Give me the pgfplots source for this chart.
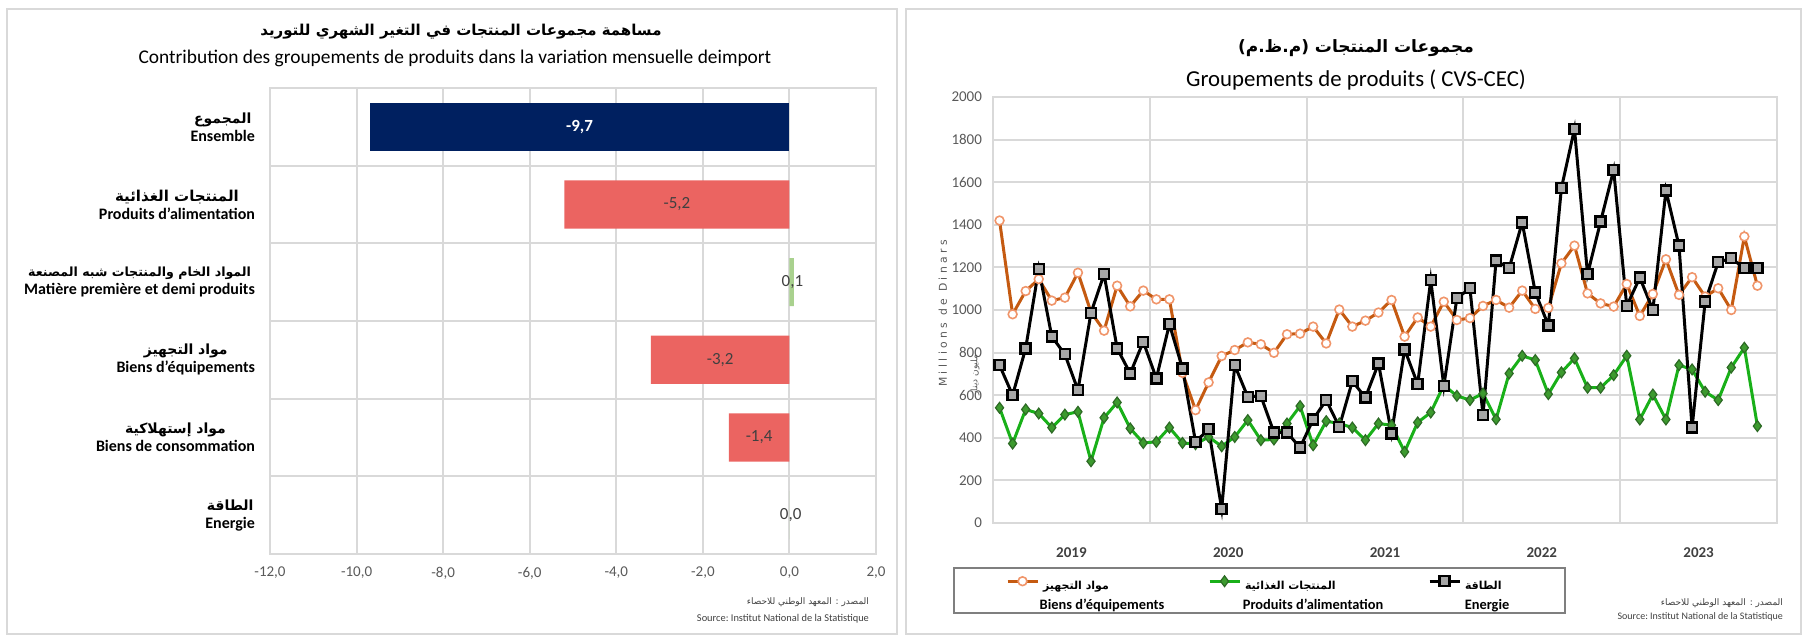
\documentclass[border=0pt]{standalone}
\usepackage{pgfplots}
\pgfplotsset{compat=1.18}
\usepackage{pgfplotstable}
\usepackage{fontspec}
\setmainfont{Carlito}
\newfontfamily\arabicfont[Script=Arabic]{DejaVu Sans}
\newfontfamily\dejavu{DejaVu Sans}
\TeXXeTstate=1
\definecolor{gridc}{HTML}{D9D9D9}
\definecolor{navy}{HTML}{002060}
\definecolor{redbar}{HTML}{EB6461}
\definecolor{greenbar}{HTML}{A9D18E}
\definecolor{txt}{HTML}{404040}
\definecolor{ticktxt}{HTML}{595959}
\definecolor{legc}{HTML}{7F7F7F}
\definecolor{orangeline}{HTML}{C55A11}
\definecolor{orangemark}{HTML}{F0956A}
\definecolor{greenline}{HTML}{19B019}
\definecolor{greenmark}{HTML}{3C9A2E}
\definecolor{greenedge}{HTML}{2D6A25}
\definecolor{graymark}{HTML}{A6A6A6}
\newcommand{\fsz}[2]{\fontsize{#1}{#2}\selectfont}
\newcommand{\cat}[3]{{\fsz{#1}{9.5}\arabicfont\bfseries #2}\\[-0.5pt]\textbf{#3}}
\newcommand{\legent}[3]{\begin{tabular}{@{}p{#1}@{}}{\fsz{5.5}{8}\arabicfont\bfseries #2}\\[1pt]\makebox[#1]{\makebox[0pt]{\textbf{#3}}}\end{tabular}}

\pgfplotstableread{
x eq al en
0.5 1420 541 741
1.5 980 373 600
2.5 1089 533 820
3.5 1145 514 1193
4.5 1044 448 875
5.5 1058 509 792
6.5 1175 522 624
7.5 990 290 987
8.5 903 494 1168
9.5 1114 566 820
10.5 1017 444 702
11.5 1091 376 851
12.5 1050 381 679
13.5 1050 448 933
14.5 705 376 726
15.5 530 370 381
16.5 660 404 440
17.5 784 360 67
18.5 812 404 741
19.5 848 483 592
20.5 839 389 596
21.5 799 392 425
22.5 886 467 425
23.5 889 549 354
24.5 922 365 486
25.5 843 478 577
26.5 1002 467 451
27.5 922 448 666
28.5 950 389 589
29.5 988 467 749
30.5 1047 459 420
31.5 875 334 815
32.5 965 472 652
33.5 922 519 1141
34.5 1039 647 643
35.5 953 597 1055
36.5 962 577 1102
37.5 1019 608 506
38.5 1047 487 1232
39.5 1011 702 1196
40.5 1091 785 1411
41.5 1005 765 1083
42.5 1010 605 928
43.5 1219 707 1572
44.5 1302 773 1850
45.5 1078 635 1168
46.5 1031 635 1415
47.5 1016 694 1658
48.5 1122 785 1019
49.5 972 486 1152
50.5 1075 603 1000
51.5 1238 486 1561
52.5 1071 741 1302
53.5 1154 721 448
54.5 1063 616 1039
55.5 1102 577 1224
56.5 1000 730 1243
57.5 1345 823 1196
58.5 1114 455 1196
}\datatable

\begin{document}
\begin{tikzpicture}
\useasboundingbox (0,0) rectangle (904pt,321pt);
\draw[gridc, line width=1pt] (3.5pt,4pt) rectangle (448.5pt,316.5pt);
\draw[gridc, line width=1pt] (453pt,4pt) rectangle (900.5pt,316.5pt);

% ---------- left chart titles ----------
\node[font=\fsz{7.5}{9}] at (230.5pt,305pt) {\arabicfont\bfseries\beginR مساهمة مجموعات المنتجات في التغير الشهري للتوريد\endR};
\node[font=\fsz{9.7}{11}] at (227.5pt,292pt) {Contribution des groupements de produits dans la variation mensuelle deimport};
\node[anchor=east, font=\fsz{4.5}{6}, text=txt] at (438pt,20pt) {\arabicfont\beginR المصدر : المعهد الوطني للاحصاء\endR};
\node[anchor=east, font=\fsz{5.2}{6}, text=txt] at (438pt,11.5pt) {Source:\ Institut National de la Statistique};

\begin{axis}[
  at={(135pt,277pt)}, anchor=north west,
  scale only axis, width=303pt, height=233pt,
  xmin=-12, xmax=2, ymin=-0.5, ymax=5.5,
  xtick={-12,-10,-8,-6,-4,-2,0,2},
  xticklabels={{-12,0},{-10,0},{-8,0},{-6,0},{-4,0},{-2,0},{0,0},{2,0}},
  ytick={0,1,2,3,4,5},
  yticklabels={
    {\cat{7}{\beginR الطاقة\endR}{Energie}},
    {\cat{7}{\beginR مواد إستهلاكية\endR}{Biens de consommation}},
    {\cat{7}{\beginR مواد التجهيز\endR}{Biens d'équipements}},
    {\cat{6.3}{\beginR المواد الخام والمنتجات شبه المصنعة\endR}{Matière première et demi produits}},
    {\cat{7.5}{\beginR المنتجات الغذائية\endR}{Produits d'alimentation}},
    {\cat{7}{\beginR المجموع\endR}{Ensemble}}},
  minor ytick={-0.5,0.5,1.5,2.5,3.5,4.5,5.5},
  xmajorgrids=true, ymajorgrids=false, yminorgrids=true,
  major grid style={gridc, line width=1pt},
  minor grid style={gridc, line width=1pt},
  major tick length=0pt, minor tick length=0pt,
  axis line style={gridc, line width=1pt},
  xticklabel style={font=\fsz{7.5}{9}, text=ticktxt, yshift=-3pt},
  yticklabel style={align=center, font=\fsz{8}{9.5}, text=black, xshift=-4pt},
  clip=false,
]
\addplot[xbar, bar width=0.62, fill=navy, draw=none] coordinates {(-9.7,5)};
\addplot[xbar, bar width=0.62, fill=redbar, draw=none] coordinates {(-5.2,4) (-3.2,2) (-1.4,1)};
\addplot[xbar, bar width=0.62, fill=greenbar, draw=none] coordinates {(0.1,3) (0.0,0)};
\addplot[draw=none, mark=none, point meta=explicit,
  nodes near coords={\pgfmathprintnumber[fixed,fixed zerofill,precision=1,use comma,assume math mode=true]{\pgfplotspointmeta}},
  every node near coord/.style={anchor=center, font=\fsz{8.5}{10}\bfseries, text=white}]
  coordinates {(-4.85,5) [-9.7]};
\addplot[draw=none, mark=none, point meta=explicit,
  nodes near coords={\pgfmathprintnumber[fixed,fixed zerofill,precision=1,use comma,assume math mode=true]{\pgfplotspointmeta}},
  every node near coord/.style={anchor=center, font=\fsz{8.5}{10}, text=txt}]
  coordinates {(-2.6,4) [-5.2] (0.07,3) [0.1] (-1.6,2) [-3.2] (-0.7,1) [-1.4] (0.03,0) [0.0]};
\end{axis}

% ---------- right chart titles ----------
\node[font=\fsz{8.5}{10}] at (678pt,297pt) {\arabicfont\bfseries\beginR مجموعات المنتجات (م.ظ.م)\endR};
\node[font=\fsz{11.4}{13}] at (678pt,281pt) {Groupements de produits ( CVS-CEC)};
\node[anchor=east, font=\fsz{4.5}{6}, text=txt] at (895pt,19.5pt) {\arabicfont\beginR المصدر : المعهد الوطني للاحصاء\endR};
\node[anchor=east, font=\fsz{5}{6}, text=txt] at (895pt,12.5pt) {Source:\ Institut National de la Statistique};

\begin{axis}[
  at={(496.5pt,272.5pt)}, anchor=north west,
  scale only axis, width=392pt, height=213pt,
  xmin=0, xmax=60, ymin=0, ymax=2000,
  ytick={0,200,...,2000},
  xtick={6,18,30,42,54}, xticklabels={2019,2020,2021,2022,2023},
  minor xtick={0,12,24,36,48,60},
  xmajorgrids=false, xminorgrids=true, ymajorgrids=true,
  major grid style={gridc, line width=1pt},
  minor grid style={gridc, line width=1pt},
  major tick length=0pt, minor tick length=0pt,
  axis line style={gridc, line width=1pt},
  yticklabel style={font=\fsz{7.5}{9}, text=ticktxt, /pgf/number format/1000 sep={}, /pgf/number format/assume math mode=true, xshift=-2pt},
  xticklabel style={font=\fsz{7.5}{9}\bfseries, text=txt, yshift=-9pt},
  ylabel={M i l l i o n s\ \ d e\ \ D i n a r s},
  ylabel style={at={(axis description cs:-0.064,0.492)}, anchor=center, font=\dejavu\fsz{5.4}{6}, text=ticktxt},
  legend style={at={(axis description cs:-0.051,-0.103)}, anchor=north west,
    draw=legc, line width=1pt, fill=white,
    /tikz/every even column/.append style={column sep=21.5pt},
    font=\fsz{7.2}{8.6}, inner xsep=26pt, inner ysep=3pt},
  legend columns=3,
  legend image code/.code={\draw[mark repeat=2,mark phase=2,#1,yshift=4.5pt] plot coordinates {(0pt,0pt) (7.5pt,0pt) (15pt,0pt)};},
  clip=false,
]
\addplot[orangeline, line width=1.5pt, mark=*, mark size=2.2pt, mark options={solid, fill=white, draw=orangemark, line width=0.8pt}] table[x=x, y=eq] {\datatable};
\addlegendentry{\legent{59pt}{\beginR مواد التجهيز\endR}{Biens d'équipements}}
\addplot[greenline, line width=1.5pt, mark=diamond*, mark size=2.7pt, mark options={solid, fill=greenmark, draw=greenedge, line width=0.6pt}] table[x=x, y=al] {\datatable};
\addlegendentry{\legent{68pt}{\beginR المنتجات الغذائية\endR}{Produits d'alimentation}}
\addplot[black, line width=1.5pt, mark=square*, mark size=2.5pt, mark options={solid, fill=graymark, draw=black, line width=1.2pt}] table[x=x, y=en] {\datatable};
\addlegendentry{\legent{22pt}{\beginR الطاقة\endR}{Energie}}
\node[rotate=90, font=\fsz{4.5}{5}, text=ticktxt] at (axis description cs:-0.023,0.347) {\arabicfont\beginR مليون دينار\endR};
\end{axis}
\end{tikzpicture}
\end{document}
